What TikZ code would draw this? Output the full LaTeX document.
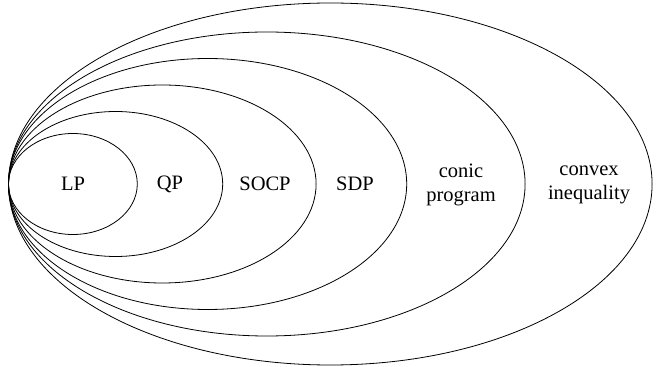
\documentclass[tikz,border=0pt]{standalone}
\usepackage{fontspec}
\setmainfont{Liberation Serif}
\newfontfamily\tms{Liberation Serif}
\usetikzlibrary{shapes.geometric}
\tikzset{
  set/.style={ellipse, draw, line width=0.8pt, inner sep=0pt, outer sep=0pt},
  lbl/.style={font=\tms\fontsize{20.5}{24}\selectfont, align=center, inner sep=0pt}
}
\begin{document}
\begin{tikzpicture}[x=1pt,y=1pt]
\useasboundingbox (0,0) rectangle (657,367);
\node[set, minimum width=128.8pt, minimum height=101pt] (lp) at (72.9,183) {};
\node[set, minimum width=214.2pt, minimum height=145pt] (qp) at (115.6,183) {};
\node[set, minimum width=307.6pt, minimum height=198pt] (socp) at (162.3,183) {};
\node[set, minimum width=398.2pt, minimum height=251pt] (sdp) at (207.6,183) {};
\node[set, minimum width=516.6pt, minimum height=304pt] (conic) at (266.8,183) {};
\node[set, minimum width=643.6pt, minimum height=362pt] (convex) at (330.3,183) {};
\node[lbl] (tlp) at (73,183) {LP};
\node[lbl] (tqp) at (170,183) {QP};
\node[lbl] (tsocp) at (265,183) {SOCP};
\node[lbl] (tsdp) at (355,183) {SDP};
\node[lbl] (tconic) at (461,182) {conic\\program};
\node[lbl] (tconvex) at (589,182) {convex\\inequality};
\end{tikzpicture}
\end{document}
